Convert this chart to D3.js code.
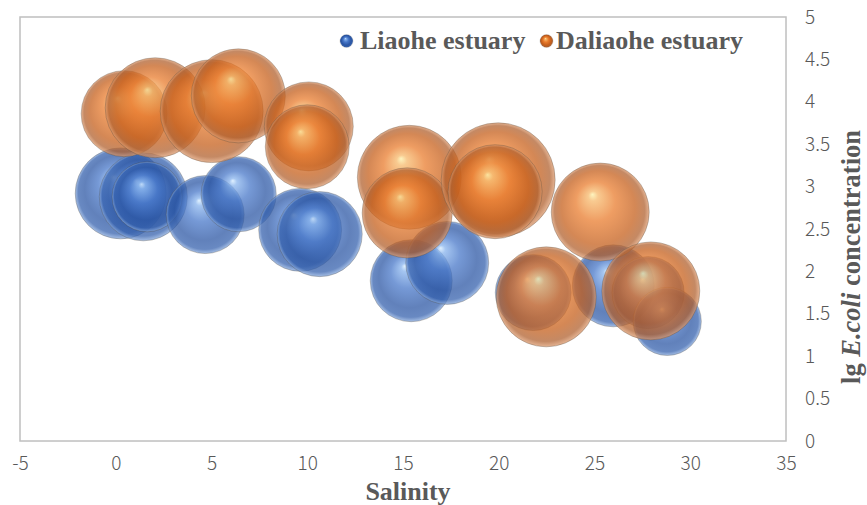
<!DOCTYPE html>
<html>
<head>
<meta charset="utf-8">
<script src="https://cdn.jsdelivr.net/npm/d3@7/dist/d3.min.js"></script>
<style>
  html, body { margin: 0; padding: 0; background: #fff; }
  svg { display: block; }
</style>
</head>
<body>
<svg id="chart" width="867" height="505"></svg>
<script>
// Salinity (x), lg E.coli concentration (y) and bubble size for each estuary
const liaoheSalinity = [0.26, 1.44, 1.64, 4.67, 6.42, 9.63, 10.65, 15.43, 17.31, 21.8, 25.98, 27.8, 28.8];
const liaoheLgEcoli  = [2.92, 2.88, 2.88, 2.67, 2.91, 2.49, 2.44, 1.89, 2.10, 1.75, 1.83, 1.75, 1.41];
const liaoheSize     = [20.7, 19.4, 12.3, 15.2, 14.1, 17.2, 18.1, 16.8, 17.2, 14.4, 16.8, 13.0, 11.6];

const daliaoheSalinity = [0.44, 2.06, 5.01, 6.40, 10.08, 10.0, 15.33, 15.22, 19.97, 19.81, 25.3, 22.48, 27.94];
const daliaoheLgEcoli  = [3.86, 3.93, 3.89, 4.07, 3.71, 3.47, 3.11, 2.69, 3.08, 2.94, 2.70, 1.70, 1.77];
const daliaoheSize     = [18.5, 25.0, 26.5, 22.1, 19.8, 17.6, 27.0, 20.3, 32.5, 22.1, 24.0, 25.0, 24.0];

const seriesNames = ["Liaohe estuary", "Daliaohe estuary"];
const xTicks = [-5, 0, 5, 10, 15, 20, 25, 30, 35];
const yTicks = [0, 0.5, 1, 1.5, 2, 2.5, 3, 3.5, 4, 4.5, 5];

const series = [
  { name: seriesNames[0], key: "blue",
    points: liaoheSalinity.map((s, i) => ({ x: s, y: liaoheLgEcoli[i], size: liaoheSize[i] })) },
  { name: seriesNames[1], key: "orange",
    points: daliaoheSalinity.map((s, i) => ({ x: s, y: daliaoheLgEcoli[i], size: daliaoheSize[i] })) }
];

const svg = d3.select("#chart");
const plot = { left: 20, right: 786, top: 17, bottom: 441 };

const x = d3.scaleLinear().domain([-5, 35]).range([plot.left, plot.right]);
const y = d3.scaleLinear().domain([0, 5]).range([plot.bottom, plot.top]);
const maxSize = d3.max(series.flatMap(s => s.points), d => d.size);
const r = d3.scaleSqrt().domain([0, maxSize]).range([0, 57]);

// Sphere-like shading for the bubbles
const defs = svg.append("defs");
const palettes = {
  orange: [[0, "#fdf0a8"], [0.1, "#f6b86a"], [0.4, "#e97b2c"], [0.75, "#c55e1a"], [0.92, "#b0602e"], [1, "#dc9a6e"]],
  blue:   [[0, "#d5ecff"], [0.1, "#86b2ec"], [0.4, "#4676c8"], [0.75, "#2a55a3"], [0.92, "#3460ad"], [1, "#86a8dc"]]
};
Object.entries(palettes).forEach(([key, stops]) => {
  const g = defs.append("radialGradient")
    .attr("id", "grad-" + key)
    .attr("cx", "50%").attr("cy", "50%").attr("r", "50%")
    .attr("fx", "42%").attr("fy", "32%");
  stops.forEach(([o, c]) => g.append("stop").attr("offset", o).attr("stop-color", c));
});

// Plot area frame
svg.append("rect")
  .attr("x", plot.left).attr("y", plot.top)
  .attr("width", plot.right - plot.left).attr("height", plot.bottom - plot.top)
  .attr("fill", "none").attr("stroke", "#bfbfbf").attr("stroke-width", 1.5);

// Bubbles
series.forEach(s => {
  svg.append("g").attr("class", "series-" + s.key)
    .selectAll("circle").data(s.points).join("circle")
    .attr("cx", d => x(d.x))
    .attr("cy", d => y(d.y))
    .attr("r", d => r(d.size))
    .attr("fill", "url(#grad-" + s.key + ")")
    .attr("fill-opacity", 0.74)
    .attr("stroke", "rgba(60,50,40,0.35)")
    .attr("stroke-width", 0.8);
});

// Axes (labels only, no lines or ticks)
const tickFont = "'Noto Sans CJK SC', 'Noto Sans', sans-serif";
const xAxis = svg.append("g")
  .attr("transform", `translate(0,${plot.bottom + 15})`)
  .call(d3.axisBottom(x).tickValues(xTicks).tickFormat(d => String(d)).tickSize(0).tickPadding(0));
xAxis.select(".domain").remove();
xAxis.selectAll("text")
  .attr("fill", "#595959").attr("font-family", tickFont).attr("font-weight", 300)
  .attr("font-size", 19).attr("dy", "0.71em");

const yAxis = svg.append("g")
  .attr("transform", `translate(${plot.right + 19},0)`)
  .call(d3.axisRight(y).tickValues(yTicks).tickFormat(d => String(d)).tickSize(0).tickPadding(0));
yAxis.select(".domain").remove();
yAxis.selectAll("text")
  .attr("fill", "#595959").attr("font-family", tickFont).attr("font-weight", 300)
  .attr("font-size", 19).attr("text-anchor", "start");

// Axis titles
const titleFont = "'Liberation Serif', 'Times New Roman', serif";
svg.append("text")
  .attr("x", 408).attr("y", 500)
  .attr("text-anchor", "middle")
  .attr("font-family", titleFont).attr("font-weight", "bold").attr("font-size", 26)
  .attr("fill", "#595959")
  .text("Salinity");

const yTitle = svg.append("text")
  .attr("transform", "translate(860,257) rotate(-90)")
  .attr("text-anchor", "middle")
  .attr("font-family", titleFont).attr("font-weight", "bold").attr("font-size", 26.5)
  .attr("fill", "#595959");
yTitle.append("tspan").text("lg ");
yTitle.append("tspan").attr("font-style", "italic").text("E.coli");
yTitle.append("tspan").text(" concentration");

// Legend
const legendItems = [
  { name: seriesNames[0], key: "blue", mx: 346.5, tx: 360 },
  { name: seriesNames[1], key: "orange", mx: 546.5, tx: 556 }
];
const legend = svg.append("g");
legendItems.forEach(it => {
  legend.append("circle")
    .attr("cx", it.mx).attr("cy", 41).attr("r", 6.5)
    .attr("fill", "url(#grad-" + it.key + ")")
    .attr("stroke", "rgba(60,50,40,0.3)").attr("stroke-width", 0.6);
  legend.append("text")
    .attr("x", it.tx).attr("y", 49)
    .attr("font-family", titleFont).attr("font-weight", "bold").attr("font-size", 26)
    .attr("fill", "#595959")
    .text(it.name);
});
</script>
</body>
</html>
